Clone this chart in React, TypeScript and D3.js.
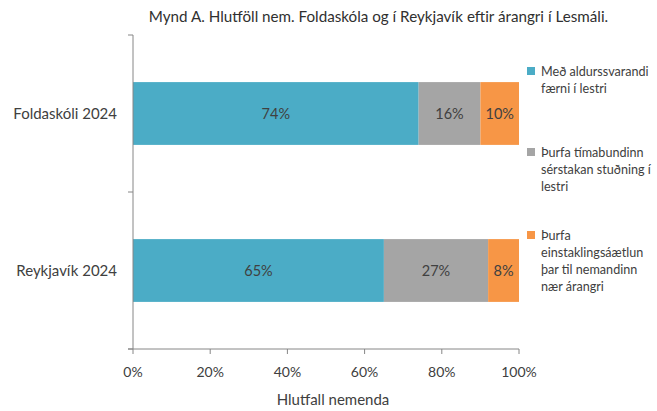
import React from "react";
import * as d3 from "d3";

const categories = ["Foldaskóli 2024", "Reykjavík 2024"];
const seriesNames = [
  ["Með aldurssvarandi", "færni í lestri"],
  ["Þurfa tímabundinn", "sérstakan stuðning í", "lestri"],
  ["Þurfa", "einstaklingsáætlun", "þar til nemandinn", "nær árangri"],
];
const serieA = [74, 65];
const serieB = [16, 27];
const serieC = [10, 8];
const xTicks = [0, 20, 40, 60, 80, 100];
const colors = ["#4BACC6", "#A5A5A5", "#F79646"];
const title = "Mynd A. Hlutföll nem. Foldaskóla og í Reykjavík eftir  árangri í Lesmáli.";
const xTitle = "Hlutfall nemenda";

const W = 657;
const H = 411;
const FONT = "Lato, sans-serif";

export default function App() {
  const x = d3.scaleLinear().domain([0, 100]).range([133, 519]);
  const y = d3
    .scaleBand<string>()
    .domain(categories)
    .range([35, 349])
    .paddingInner(0.6)
    .paddingOuter(0.3);
  const series = [serieA, serieB, serieC];
  const rows = categories.map((c, i) => ({ cat: c, vals: series.map((s) => s[i]) }));
  const stack = d3
    .stack<{ cat: string; vals: number[] }, number>()
    .keys([0, 1, 2])
    .value((d, k) => d.vals[k]);
  const stacked = stack(rows);
  const step = y.step();
  const boundaries = [35, 35 + step, 349];
  const legendBase = [76, 157, 240];
  const axisColor = "#868686";
  const textColor = "#404040";

  return (
    <svg
      width={W}
      height={H}
      style={{ position: "absolute", left: 0, top: 0, background: "#fff" }}
      fontFamily={FONT}
    >
      <rect width={W} height={H} fill="#fff" />
      <text x={378.5} y={22} textAnchor="middle" fontSize={15.2} fill="#303030">
        {title}
      </text>
      {stacked.map((layer, li) =>
        layer.map((seg, ci) => {
          const cat = categories[ci];
          const x0 = x(seg[0]);
          const x1 = x(seg[1]);
          const yy = y(cat)!;
          return (
            <g key={`${li}-${ci}`}>
              <rect x={x0} y={yy} width={x1 - x0} height={y.bandwidth()} fill={colors[li]} />
              <text
                x={(x0 + x1) / 2}
                y={yy + y.bandwidth() / 2}
                dy="0.36em"
                textAnchor="middle"
                fontSize={14.5}
                fill={textColor}
              >
                {`${seg[1] - seg[0]}%`}
              </text>
            </g>
          );
        })
      )}
      {/* y axis */}
      <line x1={133} x2={133} y1={35} y2={349} stroke={axisColor} strokeWidth={1} />
      {boundaries.map((b, i) => (
        <line key={i} x1={128} x2={133} y1={b} y2={b} stroke={axisColor} />
      ))}
      {categories.map((c) => (
        <text
          key={c}
          x={117}
          y={y(c)! + y.bandwidth() / 2}
          dy="0.34em"
          textAnchor="end"
          fontSize={15}
          fill={textColor}
        >
          {c}
        </text>
      ))}
      {/* x axis */}
      <line x1={128} x2={519} y1={349} y2={349} stroke={axisColor} />
      {xTicks.map((t) => (
        <g key={t}>
          <line x1={x(t)} x2={x(t)} y1={349} y2={354} stroke={axisColor} />
          <text x={x(t)} y={377} textAnchor="middle" fontSize={14} fill={textColor}>
            {`${t}%`}
          </text>
        </g>
      ))}
      <text x={333} y={405} textAnchor="middle" fontSize={15} fill={textColor}>
        {xTitle}
      </text>
      {/* legend */}
      {seriesNames.map((lines, i) => (
        <g key={i}>
          <rect x={527} y={legendBase[i] - 9} width={8} height={8} fill={colors[i]} />
          {lines.map((l, j) => (
            <text key={j} x={541} y={legendBase[i] + j * 17} fontSize={12.6} fill={textColor}>
              {l}
            </text>
          ))}
        </g>
      ))}
    </svg>
  );
}
